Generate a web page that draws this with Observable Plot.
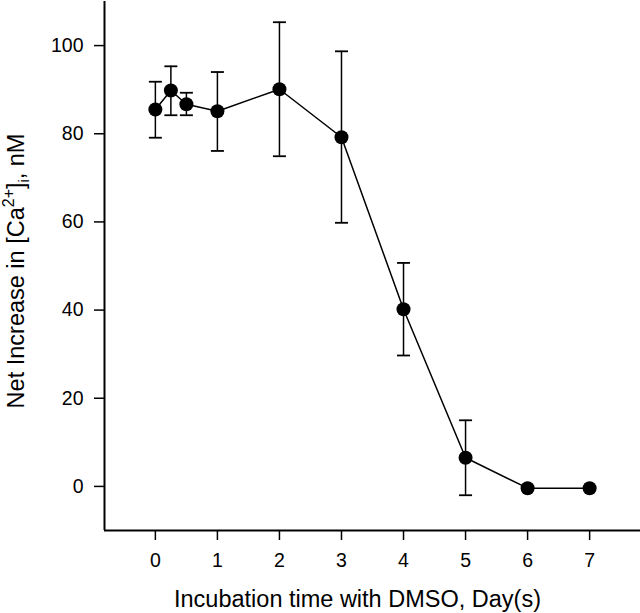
<!DOCTYPE html>
<html>
<head>
<meta charset="utf-8">
<script src="https://cdn.jsdelivr.net/npm/d3@7"></script>
<script src="https://cdn.jsdelivr.net/npm/@observablehq/plot@0.6"></script>
<style>
  html, body { margin: 0; padding: 0; background: #fff; }
  #chart svg { display: block; }
</style>
</head>
<body>
<div id="chart"></div>
<script>
// Data
const days   = [0, 0.25, 0.5, 1, 2, 3, 4, 5, 6, 7];
const values = [85.5, 89.8, 86.7, 85.1, 90.1, 79.2, 40.2, 6.5, -0.4, -0.4];
const errHi  = [91.8, 95.3, 89.3, 94.0, 105.3, 98.7, 50.7, 15.0, null, null];
const errLo  = [79.1, 84.2, 84.2, 76.1, 74.9, 59.8, 29.7, -2.0, null, null];

const xTicks = [0, 1, 2, 3, 4, 5, 6, 7];
const yTicks = [0, 20, 40, 60, 80, 100];
const xDomain = [-0.82, 7.82];
const yDomain = [-10, 110];

const xTitle = "Incubation time with DMSO, Day(s)";

const data = days.map((d, i) => ({day: d, value: values[i], hi: errHi[i], lo: errLo[i]}));
const bars = data.filter(d => d.hi != null);

const capSymbol = {
  draw(ctx) { ctx.moveTo(-6.5, 0); ctx.lineTo(6.5, 0); }
};

const W = 640, H = 613;
const mLeft = 104, mRight = 0, mTop = 1, mBottom = 83;

const chart = Plot.plot({
  width: W,
  height: H,
  marginLeft: mLeft,
  marginRight: mRight,
  marginTop: mTop,
  marginBottom: mBottom,
  style: {fontFamily: "'Liberation Sans', Arial, sans-serif", fontSize: "19.5px", color: "#000", background: "#fff"},
  x: {domain: xDomain},
  y: {domain: yDomain},
  marks: [
    Plot.axisX({ticks: xTicks, tickSize: 10, tickPadding: 13, label: null, strokeWidth: 1.5, fontSize: 19.5}),
    Plot.axisY({ticks: yTicks, tickSize: 10, tickPadding: 11, label: null, strokeWidth: 1.5, fontSize: 19.5}),
    Plot.ruleX([xDomain[0]], {stroke: "#000", strokeWidth: 2}),
    Plot.ruleY([yDomain[0]], {stroke: "#000", strokeWidth: 2}),
    Plot.ruleX(bars, {x: "day", y1: "lo", y2: "hi", stroke: "#000", strokeWidth: 1.5}),
    Plot.dot(bars, {x: "day", y: "hi", symbol: capSymbol, fill: "none", stroke: "#000", strokeWidth: 1.8}),
    Plot.dot(bars, {x: "day", y: "lo", symbol: capSymbol, fill: "none", stroke: "#000", strokeWidth: 1.8}),
    Plot.line(data, {x: "day", y: "value", stroke: "#000", strokeWidth: 1.5}),
    Plot.dot(data, {x: "day", y: "value", r: 7, fill: "#000", stroke: "none"})
  ]
});

const svg = d3.select(chart);

// x axis title
svg.append("text")
  .attr("x", 357.5)
  .attr("y", 607)
  .attr("text-anchor", "middle")
  .attr("font-size", 23.5)
  .attr("fill", "#000")
  .text(xTitle);

// y axis title with superscript / subscript
const yt = svg.append("text")
  .attr("transform", "translate(24,271) rotate(-90)")
  .attr("text-anchor", "middle")
  .attr("font-size", 23.5)
  .attr("fill", "#000");
yt.append("tspan").text("Net Increase in [Ca");
yt.append("tspan").attr("font-size", 16).attr("dy", -10).text("2+");
yt.append("tspan").attr("dy", 10).text("]");
yt.append("tspan").attr("font-size", 14).attr("dy", 5).text("i");
yt.append("tspan").attr("dy", -5).text(", nM");

document.getElementById("chart").appendChild(chart);
</script>
</body>
</html>
